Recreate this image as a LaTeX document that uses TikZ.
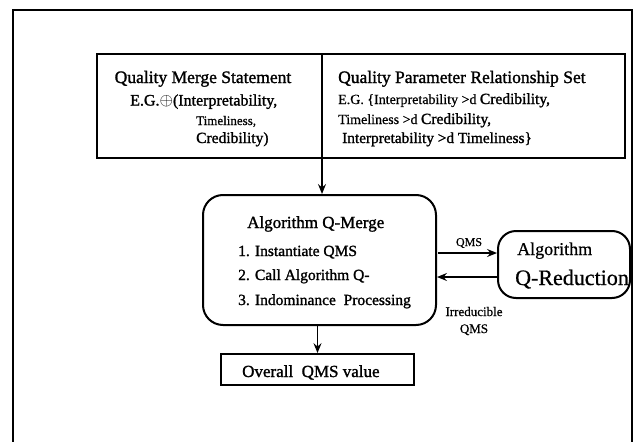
\documentclass[tikz,border=0pt]{standalone}
\usepackage{fontspec}
\setmainfont{Liberation Serif}[FakeBold=0.6]
\newfontfamily\dk{Liberation Serif}[FakeBold=1.4]
\usetikzlibrary{arrows.meta}
\newcommand{\fs}[1]{\fontsize{#1}{#1}\selectfont}
\begin{document}
\begin{tikzpicture}[x=1pt,y=-1pt,
  box/.style={draw, line width=1.8pt, inner sep=0pt},
  rbox/.style={draw, line width=2pt, inner sep=0pt},
  txt/.style={inner sep=0pt, anchor=base west, font=\dk},
  ctxt/.style={inner sep=0pt, anchor=base, font=\dk},
  arr/.style={line width=1.3pt, -{Stealth[length=10pt,width=8pt,inset=3.5pt]}}]
\useasboundingbox (0,0) rectangle (638,442);
% outer frame (open at bottom)
\draw[line width=2.8pt] (13,442) -- (13,10) -- (632,10) -- (632,442);
% top boxes
\node[box, minimum width=225pt, minimum height=104pt] (qms) at (209.5,106) {};
\node[box, minimum width=303pt, minimum height=104pt] (qprs) at (473.5,106) {};
% left texts
\node[ctxt, text depth=2pt] (t1) at (203,83) {\fs{17.5}Quality Merge Statement};
\node[txt, text height=12pt] (t2) at (130,105.5) {\fs{16}E.G.{\fs{18}\smash{$\oplus$}}(Interpretability,};
\node[txt, font=\rmfamily] (t3) at (196,125) {\fs{13}Timeliness,};
\node[txt] (t4) at (196,143) {\fs{15.5}Credibility)};
% right texts
\node[txt] (r1) at (338,83) {\fs{17.5}Quality Parameter Relationship Set};
\node[txt, font=\rmfamily] (r2) at (338,104) {\fs{14}E.G. \{Interpretability >d {\dk\fs{15.5}Credibility,}};
\node[txt, font=\rmfamily] (r3) at (338,124) {\fs{14}Timeliness >d {\dk\fs{15.5}Credibility,}};
\node[txt] (r4) at (342,143) {\fs{15.3}Interpretability >d Timeliness\}};
% Q-Merge box
\node[rbox, rounded corners=20pt, minimum width=233pt, minimum height=130pt] (qmerge) at (319.5,260) {};
\node[txt] (m0) at (247,228) {\fs{17}Algorithm Q-Merge};
\node[txt] (m1) at (238,256) {\fs{15.5}1. Instantiate QMS};
\node[txt] (m2) at (238,280) {\fs{15.5}2. Call Algorithm Q-};
\node[txt] (m3) at (238,305) {\fs{15.5}3. Indominance\ \ Processing};
% Q-Reduction box
\node[rbox, rounded corners=18pt, minimum width=132pt, minimum height=67pt] (qred) at (564,264.5) {};
\node[txt, font=\rmfamily] (q0) at (517,255) {\fs{18}Algorithm};
\node[txt, font=\rmfamily] (q1) at (515,285) {\fs{22}Q-Reduction};
% Overall box
\node[box, minimum width=193pt, minimum height=31pt] (overall) at (317.5,369.5) {};
\node[txt] (o1) at (242,377) {\fs{17}Overall\ \ QMS value};
% connectors
\coordinate (div) at (322,158);
\draw[arr] (div) -- (div |- qmerge.north);
\coordinate (a1) at (438,253);
\draw[arr] (a1) -- (a1 -| qred.west);
\coordinate (b1) at (437,277);
\draw[arr] (qred.west |- b1) -- (b1);
\draw[arr] (overall.north |- qmerge.south) -- (overall.north);
% labels
\node[ctxt, font=\rmfamily] (l1) at (469,246) {\fs{12}QMS};
\node[ctxt, font=\rmfamily] (l2) at (474,316) {\fs{13}Irreducible};
\node[ctxt, font=\rmfamily] (l3) at (474,333) {\fs{13}QMS};
\end{tikzpicture}
\end{document}
